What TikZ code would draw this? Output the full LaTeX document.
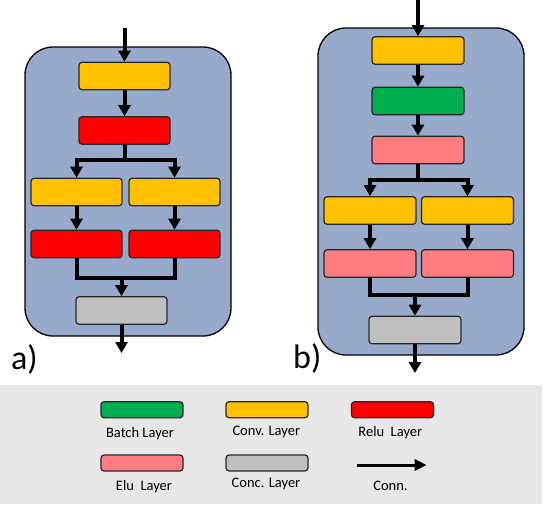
\documentclass[tikz,border=0pt]{standalone}
\usepackage{fontspec}
\setmainfont{Carlito}
\usetikzlibrary{arrows.meta}
\definecolor{contc}{HTML}{98AACB}
\definecolor{yelc}{HTML}{FFC000}
\definecolor{redc}{HTML}{FF0000}
\definecolor{grnc}{HTML}{00B050}
\definecolor{pnkc}{HTML}{FF7C80}
\definecolor{gryc}{HTML}{BFBFBF}
\definecolor{lbgc}{HTML}{E7E7E7}
\begin{document}
\begin{tikzpicture}[x=1pt,y=-1pt,
  container/.style={draw=black, line width=1.3pt, fill=contc, rounded corners=28pt, inner sep=0pt},
  layer/.style={draw=black!85, line width=1.2pt, rounded corners=3pt, minimum width=91pt, minimum height=27.5pt, inner sep=0pt},
  lbox/.style={draw=black!85, line width=1.2pt, rounded corners=3pt, minimum width=82pt, minimum height=16pt, inner sep=0pt},
  wire/.style={line width=4pt},
  conn/.style={line width=4pt, -{Triangle[length=11pt,width=12pt]}},
  lconn/.style={line width=3pt, -{Triangle[length=12pt,width=11pt]}},
  ltext/.style={anchor=base, inner sep=0pt, font=\fontsize{14.5}{17}\selectfont},
  plabel/.style={anchor=base west, inner sep=0pt, font=\fontsize{34}{40}\selectfont}
]
\useasboundingbox (0,0) rectangle (544,504);
% legend background
\fill[lbgc] (0,385) rectangle (542,504);

% ---------- panel a ----------
\node[container, minimum width=206pt, minimum height=289pt] (ca) at (128,191.5) {};
\node[layer, fill=yelc] (a1) at (124.5,76) {};
\node[layer, fill=redc] (a2) at (124.5,130.5) {};
\node[layer, fill=yelc] (a3l) at (76.5,192) {};
\node[layer, fill=yelc] (a3r) at (174.5,192) {};
\node[layer, fill=redc] (a4l) at (76.5,244) {};
\node[layer, fill=redc] (a4r) at (174.5,244) {};
\node[layer, fill=gryc] (a5) at (121.5,310.5) {};
\coordinate (ain) at (124.5,28);
\coordinate (asp) at (124.5,160);
\coordinate (amg) at (121.5,278);
\coordinate (aout) at (121.5,353);
\draw[conn] (ain) -- (a1.north);
\draw[conn] (a1.south) -- (a2.north);
\draw[wire] (a2.south) -- (asp);
\draw[conn] (asp) -| (a3l.north);
\draw[conn] (asp) -| (a3r.north);
\draw[conn] (a3l.south) -- (a4l.north);
\draw[conn] (a3r.south) -- (a4r.north);
\draw[wire] (a4l.south) |- (a4r.south |- amg) -- (a4r.south);
\draw[conn] (amg) -- (a5.north);
\draw[conn] (a5.south) -- (aout);
\node[plabel] (la) at (11,369) {a)};

% ---------- panel b ----------
\node[container, minimum width=206pt, minimum height=327pt] (cb) at (421,191.5) {};
\node[layer, fill=yelc, minimum width=92pt] (b1) at (418,50.5) {};
\node[layer, fill=grnc, minimum width=92pt] (b2) at (418,101) {};
\node[layer, fill=pnkc, minimum width=92pt] (b3) at (418,150) {};
\node[layer, fill=yelc, minimum width=92pt] (b4l) at (370,210.5) {};
\node[layer, fill=yelc, minimum width=92pt] (b4r) at (467.5,210.5) {};
\node[layer, fill=pnkc, minimum width=92pt] (b5l) at (370,263.5) {};
\node[layer, fill=pnkc, minimum width=92pt] (b5r) at (467.5,263.5) {};
\node[layer, fill=gryc, minimum width=92pt] (b6) at (415,330) {};
\coordinate (bin) at (418,0);
\coordinate (bsp) at (418,180);
\coordinate (bmg) at (415,295);
\coordinate (bout) at (415,373);
\draw[conn] (bin) -- (b1.north);
\draw[conn] (b1.south) -- (b2.north);
\draw[conn] (b2.south) -- (b3.north);
\draw[wire] (b3.south) -- (bsp);
\draw[conn] (bsp) -| (b4l.north);
\draw[conn] (bsp) -| (b4r.north);
\draw[conn] (b4l.south) -- (b5l.north);
\draw[conn] (b4r.south) -- (b5r.north);
\draw[wire] (b5l.south) |- (b5r.south |- bmg) -- (b5r.south);
\draw[conn] (bmg) -- (b6.north);
\draw[conn] (b6.south) -- (bout);
\node[plabel] (lb) at (293,368) {b)};

% ---------- legend ----------
\node[lbox, fill=grnc] (kbatch) at (142,409.7) {};
\node[lbox, fill=yelc] (kconv) at (267,409.7) {};
\node[lbox, fill=redc] (krelu) at (392.5,409.7) {};
\node[lbox, fill=pnkc] (kelu) at (142,463) {};
\node[lbox, fill=gryc] (kconc) at (267,463) {};
\coordinate (kcs) at (356.7,465);
\coordinate (kce) at (426.7,465);
\draw[lconn] (kcs) -- (kce);
\node[ltext] (tbatch) at (140,437) {Batch Layer};
\node[ltext] (tconv) at (266.3,435.7) {Conv. Layer};
\node[ltext] (trelu) at (390.3,436.7) {Relu\ \ Layer};
\node[ltext] (telu) at (144,490.7) {Elu\ \ Layer};
\node[ltext] (tconc) at (266,487.7) {Conc. Layer};
\node[ltext] (tconn) at (390.5,490.7) {Conn.};
\end{tikzpicture}
\end{document}
